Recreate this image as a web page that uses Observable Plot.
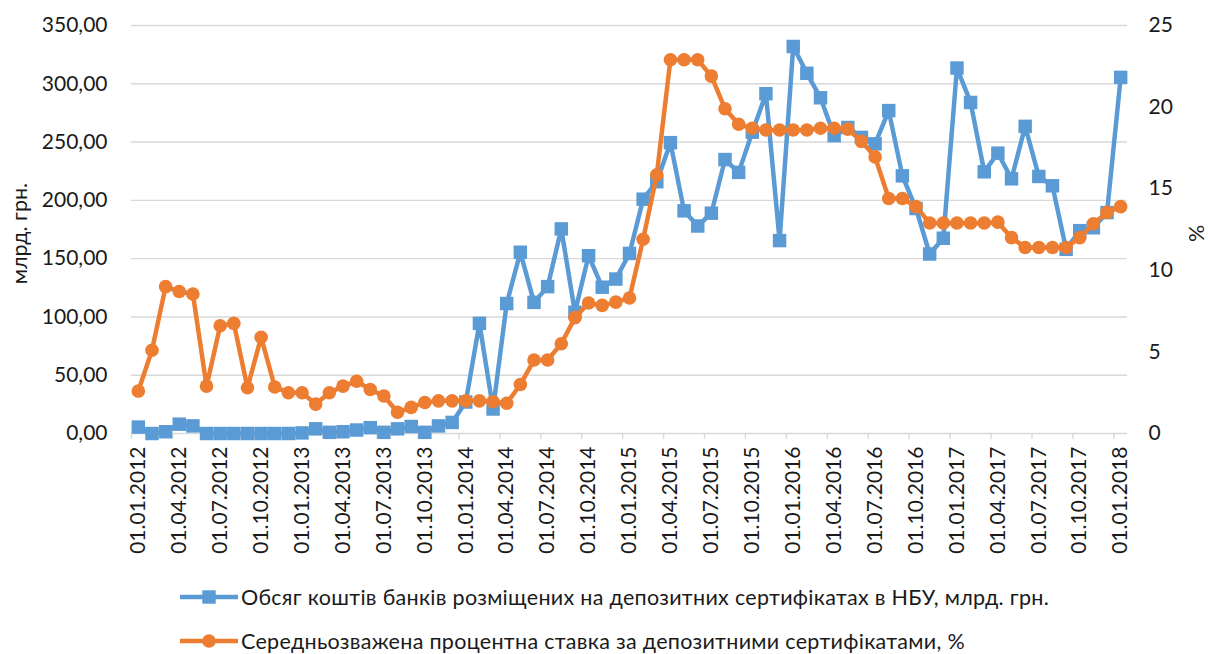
<!DOCTYPE html>
<html><head><meta charset="utf-8">
<script src="https://cdn.jsdelivr.net/npm/d3@7"></script>
<script src="https://cdn.jsdelivr.net/npm/@observablehq/plot@0.6"></script>
<style>
body{margin:0;background:#fff;font-family:Lato,"Open Sans",sans-serif;}
#wrap{position:relative;width:1208px;height:654px;overflow:hidden;}
#chart{position:absolute;left:0;top:0;}
.leg{position:absolute;left:180px;display:flex;align-items:center;font-size:21.5px;letter-spacing:0.3px;color:#1a1a1a;white-space:nowrap;}
.leg svg{display:block;margin-right:3px;}
</style></head><body>
<div id="wrap"><div id="chart"></div>
<div class="leg" id="leg1" style="top:582px"></div>
<div class="leg" id="leg2" style="top:626px"></div>
</div>
<script>
// Обсяг коштів банків розміщених на депозитних сертифікатах в НБУ, млрд. грн. (01.2012 – 01.2018, monthly)
const volume = [
  5.5, 0, 1.5, 8, 6.5, 0, 0, 0, 0, 0, 0, 0,
  0.5, 4, 1, 1.5, 3, 5, 1, 4, 6, 1, 6.5, 9.5,
  27, 94.5, 21, 111.5, 155.5, 112.5, 126, 175.5, 104, 152.5, 125.5, 132.5,
  154.5, 201, 216, 249.5, 191, 178, 189, 235, 224, 258.5, 291.5, 165.5,
  332, 309, 288, 255.5, 262.5, 254, 248.5, 277, 221, 193, 154, 167.5,
  313.5, 284, 224.5, 240.5, 218.5, 263.5, 220.5, 212.5, 158, 174, 176.5, 189.5,
  305.5
];
// Середньозважена процентна ставка за депозитними сертифікатами, %
const rate = [
  2.6, 5.1, 9.0, 8.7, 8.55, 2.9, 6.6, 6.75, 2.8, 5.9, 2.85, 2.5,
  2.5, 1.8, 2.5, 2.9, 3.2, 2.7, 2.3, 1.3, 1.6, 1.9, 2.0, 2.0,
  2.0, 2.0, 1.95, 1.85, 3.0, 4.5, 4.5, 5.5, 7.1, 8.0, 7.85, 8.05,
  8.3, 11.9, 15.85, 22.9, 22.9, 22.9, 21.9, 19.9, 18.95, 18.7, 18.6, 18.6,
  18.6, 18.6, 18.7, 18.7, 18.65, 17.9, 16.95, 14.4, 14.4, 13.9, 12.9, 12.9,
  12.9, 12.9, 12.9, 12.95, 12.0, 11.4, 11.4, 11.4, 11.4, 12.0, 12.85, 13.55,
  13.9
];
const tickLabels = [
  "01.01.2012","01.04.2012","01.07.2012","01.10.2012",
  "01.01.2013","01.04.2013","01.07.2013","01.10.2013",
  "01.01.2014","01.04.2014","01.07.2014","01.10.2014",
  "01.01.2015","01.04.2015","01.07.2015","01.10.2015",
  "01.01.2016","01.04.2016","01.07.2016","01.10.2016",
  "01.01.2017","01.04.2017","01.07.2017","01.10.2017",
  "01.01.2018"
];
const leftTicks = [0, 50, 100, 150, 200, 250, 300, 350];
const rightTicks = [0, 5, 10, 15, 20, 25];
const seriesNames = [
  "Обсяг коштів банків розміщених на депозитних сертифікатах в НБУ, млрд. грн.",
  "Середньозважена процентна ставка за депозитними сертифікатами, %"
];
const leftTitle = "млрд. грн.";
const rightTitle = "%";
const colors = ["#5B9BD5", "#ED7D31"];

const K = 350 / 25; // right axis (0–25 %) mapped onto left scale (0–350)
const step = 3;
const data = volume.map((v, i) => ({i, vol: v, rateS: rate[i] * K}));
const labelIdx = tickLabels.map((_, k) => k * step);
const boundaries = tickLabels.map((_, k) => k * step - 0.5);

const chart = Plot.plot({
  width: 1208,
  height: 578,
  marginLeft: 131,
  marginRight: 81,
  marginTop: 25,
  marginBottom: 145,
  style: {fontFamily: "Lato, 'Open Sans', sans-serif", fontSize: "21px", color: "#1a1a1a", background: "#fff"},
  x: {type: "linear", domain: [-0.5, volume.length - 0.5], label: null},
  y: {domain: [0, 350], label: null},
  marks: [
    Plot.ruleY(leftTicks, {stroke: "#d9d9d9", strokeWidth: 1.4}),
    Plot.axisX(boundaries, {tickSize: 6, tickFormat: () => "", stroke: "#d9d9d9", strokeWidth: 1.4, label: null}),
    Plot.axisX(labelIdx, {tickSize: 0, tickPadding: 13, tickRotate: -90, tickFormat: d => tickLabels[d / step], label: null}),
    Plot.axisY(leftTicks, {anchor: "left", tickSize: 0, tickPadding: 24, tickFormat: d => d.toFixed(2).replace(".", ","), label: null}),
    Plot.axisY(rightTicks.map(v => v * K), {anchor: "right", tickSize: 0, tickPadding: 21, tickFormat: d => String(Math.round(d / K)), label: null}),
    Plot.text([leftTitle], {frameAnchor: "left", textAnchor: "middle", dx: -111, dy: 4, rotate: -90, fontSize: 21.5, fill: "#1a1a1a"}),
    Plot.text([rightTitle], {frameAnchor: "right", textAnchor: "middle", dx: 70, dy: 4, rotate: -90, fontSize: 21.5, fill: "#1a1a1a"}),
    Plot.line(data, {x: "i", y: "vol", stroke: colors[0], strokeWidth: 4.5, strokeLinejoin: "round"}),
    Plot.dot(data, {x: "i", y: "vol", symbol: "square", r: 7.6, fill: colors[0], stroke: "none"}),
    Plot.line(data, {x: "i", y: "rateS", stroke: colors[1], strokeWidth: 4.5, strokeLinejoin: "round"}),
    Plot.dot(data, {x: "i", y: "rateS", symbol: "circle", r: 6.8, fill: colors[1], stroke: "none"})
  ]
});
document.getElementById("chart").appendChild(chart);

function swatch(color, kind) {
  const ns = "http://www.w3.org/2000/svg";
  const s = document.createElementNS(ns, "svg");
  s.setAttribute("width", 58); s.setAttribute("height", 30);
  const l = document.createElementNS(ns, "line");
  l.setAttribute("x1", 0); l.setAttribute("x2", 58); l.setAttribute("y1", 15); l.setAttribute("y2", 15);
  l.setAttribute("stroke", color); l.setAttribute("stroke-width", 4.5);
  s.appendChild(l);
  let m;
  if (kind === "square") {
    m = document.createElementNS(ns, "rect");
    m.setAttribute("x", 29 - 6.7); m.setAttribute("y", 15 - 6.7); m.setAttribute("width", 13.4); m.setAttribute("height", 13.4);
  } else {
    m = document.createElementNS(ns, "circle");
    m.setAttribute("cx", 29); m.setAttribute("cy", 15); m.setAttribute("r", 6.8);
  }
  m.setAttribute("fill", color);
  s.appendChild(m);
  return s;
}
const l1 = document.getElementById("leg1");
l1.appendChild(swatch(colors[0], "square"));
l1.appendChild(Object.assign(document.createElement("span"), {textContent: seriesNames[0]}));
const l2 = document.getElementById("leg2");
l2.appendChild(swatch(colors[1], "circle"));
l2.appendChild(Object.assign(document.createElement("span"), {textContent: seriesNames[1]}));
</script>
</body></html>
